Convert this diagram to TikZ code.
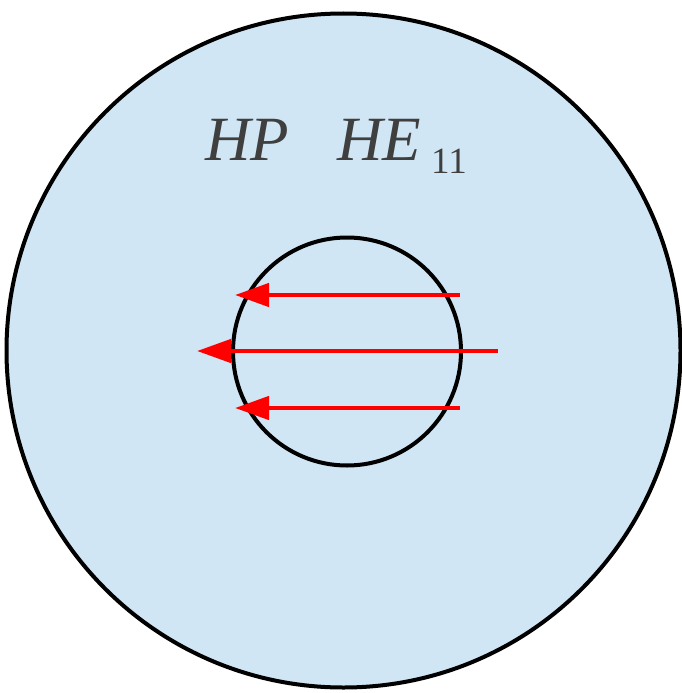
\documentclass[tikz,border=0pt]{standalone}
\usepackage{fontspec}
\setmainfont{Liberation Serif}[ItalicFont={Liberation Serif Italic}]
\usetikzlibrary{arrows.meta}
\definecolor{bgblue}{HTML}{D0E6F4}
\definecolor{txtgray}{HTML}{3F3F3F}
\begin{document}
\begin{tikzpicture}[x=1pt,y=-1pt,
  ring/.style={draw=black,line width=4pt},
  ray/.style={draw=red,line width=4.5pt,-{Triangle[length=34pt,width=23pt]}},
  lbl/.style={inner sep=0pt,anchor=base west,text=txtgray}]
\useasboundingbox (0,0) rectangle (681,693);
\path[ring,fill=bgblue] (343.5,350.5) circle[radius=337];
\path[ring] (347,351.5) circle[radius=114];
\node[lbl,font=\fontsize{63}{63}\selectfont\itshape] (hp) at (205,160) {HP};
\node[lbl,font=\fontsize{63}{63}\selectfont\itshape] (he) at (337,160) {HE};
\node[lbl,font=\fontsize{37}{37}\selectfont] (sub) at (431,173) {11};
\coordinate (a1s) at (460,295); \coordinate (a1e) at (235,295);
\coordinate (a2s) at (498,351); \coordinate (a2e) at (197,351);
\coordinate (a3s) at (460,408); \coordinate (a3e) at (235,408);
\draw[ray] (a1s) -- (a1e);
\draw[ray] (a2s) -- (a2e);
\draw[ray] (a3s) -- (a3e);
\end{tikzpicture}
\end{document}
